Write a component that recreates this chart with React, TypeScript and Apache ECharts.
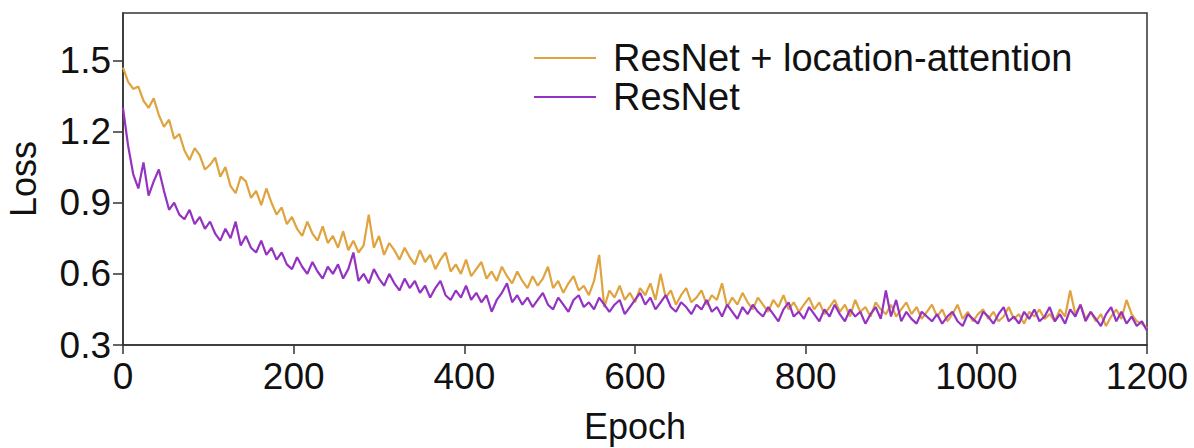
import React, { useEffect, useRef } from "react";
import * as echarts from "echarts";

const STEP = 6;
const xTicks = [0, 200, 400, 600, 800, 1000, 1200];
const yTicks = [0.3, 0.6, 0.9, 1.2, 1.5];
const seriesNames = ["ResNet + location-attention", "ResNet"];

const attentionLoss = [
  1.47, 1.41, 1.38, 1.39, 1.33, 1.30, 1.34, 1.27, 1.22, 1.25,
  1.17, 1.19, 1.12, 1.08, 1.13, 1.10, 1.04, 1.06, 1.09, 1.01,
  1.05, 0.97, 0.94, 1.01, 0.99, 0.92, 0.95, 0.89, 0.96, 0.90,
  0.85, 0.88, 0.81, 0.84, 0.79, 0.76, 0.82, 0.77, 0.74, 0.80,
  0.73, 0.76, 0.71, 0.78, 0.70, 0.74, 0.69, 0.72, 0.85, 0.71,
  0.76, 0.68, 0.73, 0.70, 0.66, 0.71, 0.67, 0.64, 0.70, 0.65,
  0.68, 0.62, 0.66, 0.69, 0.61, 0.64, 0.60, 0.66, 0.59, 0.62,
  0.65, 0.58, 0.61, 0.57, 0.63, 0.59, 0.56, 0.61, 0.57, 0.54,
  0.59, 0.55, 0.58, 0.63, 0.54, 0.57, 0.52, 0.56, 0.59, 0.53,
  0.55, 0.51, 0.57, 0.68, 0.46, 0.53, 0.50, 0.55, 0.49, 0.52,
  0.48, 0.54, 0.51, 0.56, 0.49, 0.60, 0.50, 0.53, 0.47, 0.51,
  0.54, 0.48, 0.50, 0.53, 0.47, 0.51, 0.49, 0.56, 0.46, 0.50,
  0.47, 0.52, 0.48, 0.45, 0.50, 0.47, 0.44, 0.49, 0.46, 0.51,
  0.45, 0.48, 0.44, 0.47, 0.50, 0.45, 0.48, 0.43, 0.46, 0.49,
  0.44, 0.47, 0.42, 0.49, 0.44, 0.46, 0.42, 0.48, 0.45, 0.43,
  0.47, 0.42, 0.45, 0.48, 0.43, 0.46, 0.41, 0.44, 0.47, 0.42,
  0.45, 0.40, 0.43, 0.47, 0.41, 0.44, 0.40, 0.43, 0.45, 0.41,
  0.44, 0.40, 0.42, 0.46, 0.41, 0.43, 0.39, 0.44, 0.42, 0.45,
  0.41, 0.43, 0.40, 0.45, 0.42, 0.53, 0.43, 0.47, 0.41, 0.44,
  0.40, 0.43, 0.38, 0.42, 0.45, 0.41, 0.49, 0.43, 0.40, 0.39,
  0.37,
];

const resnetLoss = [
  1.30, 1.14, 1.02, 0.96, 1.07, 0.93, 0.99, 1.04, 0.95, 0.87,
  0.90, 0.85, 0.83, 0.87, 0.81, 0.84, 0.79, 0.82, 0.77, 0.74,
  0.79, 0.75, 0.82, 0.72, 0.76, 0.71, 0.69, 0.74, 0.68, 0.71,
  0.66, 0.69, 0.64, 0.62, 0.67, 0.63, 0.60, 0.65, 0.61, 0.58,
  0.63, 0.60, 0.64, 0.58, 0.62, 0.69, 0.57, 0.60, 0.56, 0.62,
  0.58, 0.55, 0.60, 0.56, 0.53, 0.58, 0.54, 0.57, 0.52, 0.55,
  0.50, 0.54, 0.57, 0.51, 0.49, 0.53, 0.50, 0.55, 0.49, 0.52,
  0.48, 0.51, 0.44, 0.49, 0.52, 0.56, 0.48, 0.51, 0.47, 0.50,
  0.46, 0.49, 0.52, 0.47, 0.45, 0.50, 0.47, 0.44, 0.49, 0.51,
  0.46, 0.48, 0.45, 0.50, 0.47, 0.44, 0.47, 0.49, 0.43, 0.46,
  0.49, 0.52, 0.47, 0.50, 0.45, 0.48, 0.51, 0.46, 0.44, 0.48,
  0.46, 0.43, 0.47, 0.45, 0.49, 0.44, 0.46, 0.42, 0.47, 0.44,
  0.41, 0.46, 0.43, 0.47, 0.44, 0.42, 0.46, 0.43, 0.40, 0.45,
  0.48, 0.42, 0.44, 0.41, 0.46, 0.43, 0.40, 0.45, 0.42, 0.47,
  0.43, 0.40, 0.45, 0.42, 0.44, 0.39, 0.43, 0.46, 0.41, 0.53,
  0.42, 0.49, 0.40, 0.44, 0.41, 0.39, 0.44, 0.42, 0.40, 0.43,
  0.39, 0.42, 0.44, 0.40, 0.38, 0.43, 0.41, 0.39, 0.44, 0.42,
  0.39, 0.43, 0.46, 0.40, 0.42, 0.39, 0.44, 0.41, 0.45, 0.40,
  0.42, 0.46, 0.40, 0.43, 0.39, 0.45, 0.42, 0.47, 0.40, 0.44,
  0.41, 0.38, 0.43, 0.46, 0.40, 0.44, 0.39, 0.42, 0.38, 0.40,
  0.36,
];

const FONT = "'Liberation Sans', Arial, Helvetica, sans-serif";
const AXIS_COLOR = "#333333";
const TEXT_COLOR = "#111111";
const ORANGE = "#DFA33F";
const PURPLE = "#9433C2";

export default function App() {
  const ref = useRef<HTMLDivElement>(null);

  useEffect(() => {
    document.body.style.margin = "0";
    if (!ref.current) return;
    const chart = echarts.init(ref.current, null, { renderer: "svg" });
    const toPairs = (arr: number[]) => arr.map((v, i) => [i * STEP, v]);

    chart.setOption({
      animation: false,
      backgroundColor: "#ffffff",
      textStyle: { fontFamily: FONT },
      grid: {
        left: 123,
        right: 47,
        top: 13,
        bottom: 103,
        containLabel: false,
        outerBoundsMode: "none",
        show: true,
        borderColor: AXIS_COLOR,
        borderWidth: 1.5,
        backgroundColor: "transparent",
      },
      legend: {
        orient: "vertical",
        left: 529,
        top: 34,
        itemWidth: 62,
        itemHeight: 2,
        itemGap: 1,
        icon: "rect",
        data: seriesNames,
        textStyle: { fontSize: 38, color: TEXT_COLOR, fontFamily: FONT, padding: [0, 0, 0, 12] },
      },
      xAxis: {
        type: "value",
        min: 0,
        max: 1200,
        interval: 200,
        name: "Epoch",
        nameLocation: "middle",
        nameGap: 63,
        nameTextStyle: { fontSize: 36, color: TEXT_COLOR, fontFamily: FONT },
        axisLine: { show: true, lineStyle: { color: AXIS_COLOR, width: 1.5 } },
        axisTick: { show: true, inside: false, length: 9, lineStyle: { color: AXIS_COLOR, width: 1.5 }, customValues: xTicks },
        axisLabel: {
          fontSize: 37,
          color: TEXT_COLOR,
          margin: 13,
          fontFamily: FONT,
          customValues: xTicks,
          formatter: (v: number) => String(v),
        },
        splitLine: { show: false },
      },
      yAxis: {
        type: "value",
        min: 0.3,
        max: 1.7,
        name: "Loss",
        nameLocation: "middle",
        nameGap: 82,
        nameTextStyle: { fontSize: 36, color: TEXT_COLOR, fontFamily: FONT },
        axisLine: { show: true, lineStyle: { color: AXIS_COLOR, width: 1.5 } },
        axisTick: { show: true, inside: false, length: 10, lineStyle: { color: AXIS_COLOR, width: 1.5 }, customValues: yTicks },
        axisLabel: {
          fontSize: 37,
          color: TEXT_COLOR,
          margin: 12,
          fontFamily: FONT,
          customValues: yTicks,
          formatter: (v: number) => v.toFixed(1),
        },
        splitLine: { show: false },
      },
      series: [
        {
          name: seriesNames[0],
          type: "line",
          data: toPairs(attentionLoss),
          symbol: "none",
          lineStyle: { color: ORANGE, width: 2.2 },
          itemStyle: { color: ORANGE },
        },
        {
          name: seriesNames[1],
          type: "line",
          data: toPairs(resnetLoss),
          symbol: "none",
          lineStyle: { color: PURPLE, width: 2.2 },
          itemStyle: { color: PURPLE },
        },
      ],
    });

    return () => chart.dispose();
  }, []);

  return <div ref={ref} style={{ width: 1194, height: 448 }} />;
}
